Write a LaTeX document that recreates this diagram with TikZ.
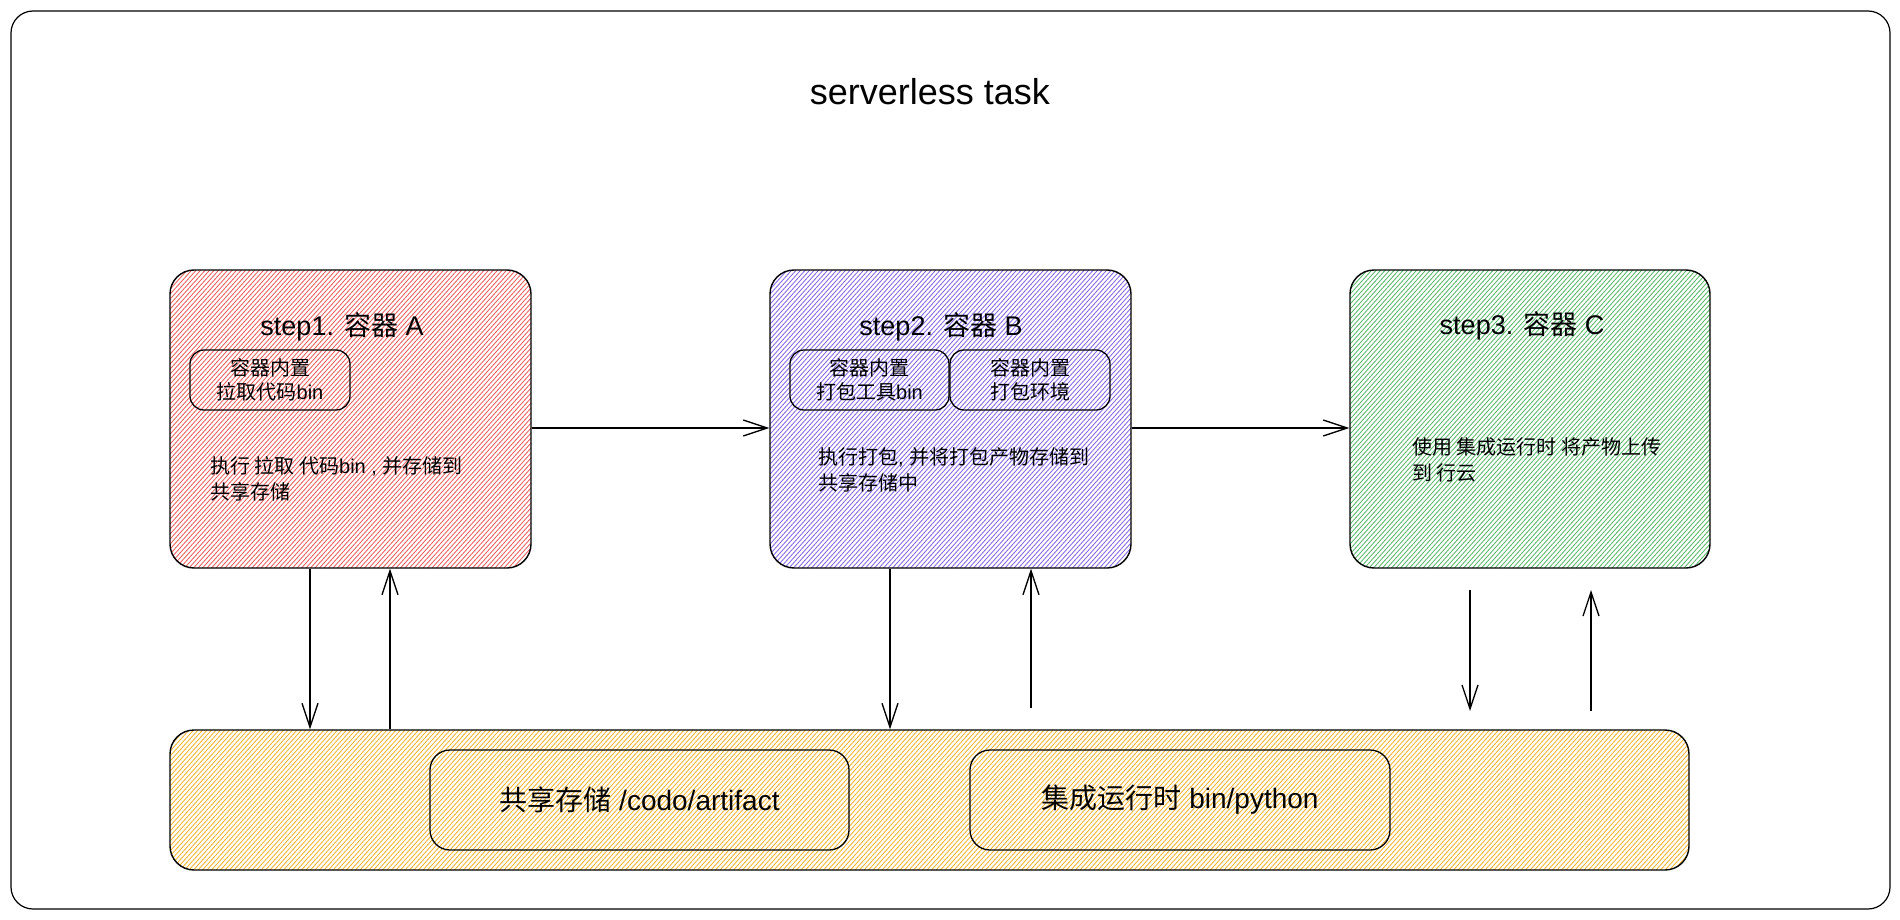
\documentclass[tikz,border=0pt]{standalone}
\usepackage{fontspec}
\setmainfont{Liberation Sans}
\newfontfamily\cjk{Noto Sans CJK SC}
\usetikzlibrary{arrows.meta,calc}
\newcommand\zh[1]{{\cjk #1}}
\definecolor{hred}{HTML}{E83A3A}
\definecolor{hviolet}{HTML}{6A45E0}
\definecolor{hgreen}{HTML}{34A84A}
\definecolor{hyellow}{HTML}{F2A300}
\begin{document}
\begin{tikzpicture}[x=1pt,y=-1pt,
  frame/.style={draw=black, line width=1.2pt, rounded corners=22pt, inner sep=0pt},
  box/.style={draw=black, line width=1.4pt, rounded corners=24pt, inner sep=0pt},
  inbox/.style={draw=black, line width=1.3pt, rounded corners=14pt, inner sep=0pt, align=center},
  hatch/.style={path picture={\foreach \k in {0,...,420}{\draw[#1, line width=0.8pt, opacity=0.85] ([xshift=\k*4.5pt-260pt]path picture bounding box.south west) -- ++(48:420pt);}}},
  ttl/.style={font=\fontsize{36}{40}\selectfont},
  btitle/.style={font=\fontsize{27}{30}\selectfont},
  small/.style={font=\fontsize{20}{24}\selectfont},
  desc/.style={font=\fontsize{20}{26}\selectfont, align=left, anchor=west, inner sep=0pt},
  big/.style={font=\fontsize{28}{32}\selectfont},
  arr/.style={line width=1.3pt, -{Straight Barb[length=24pt,width=16pt,line width=1.3pt]}}
]
\useasboundingbox (0,0) rectangle (1900,920);
\node[frame, minimum width=1879pt, minimum height=898pt] (frame) at (950.5,460) {};
\node[ttl] (title) at (930,92) {serverless task};

% main boxes
\node[box, hatch=hred, minimum width=361pt, minimum height=298pt] (A) at (350.5,419) {};
\node[box, hatch=hviolet, minimum width=361pt, minimum height=298pt] (B) at (950.5,419) {};
\node[box, hatch=hgreen, minimum width=360pt, minimum height=298pt] (C) at (1530,419) {};
\node[box, hatch=hyellow, minimum width=1519pt, minimum height=140pt] (bar) at (929.5,800) {};

% titles
\node[btitle] (At) at (342,327) {step1. \zh{容器} A};
\node[btitle] (Bt) at (941,327) {step2. \zh{容器} B};
\node[btitle] (Ct) at (1522,326) {step3. \zh{容器} C};

% inner boxes
\node[inbox, small, minimum width=160pt, minimum height=60pt] (Ain) at (270,380) {\zh{容器内置}\\\zh{拉取代码}bin};
\node[inbox, small, minimum width=159pt, minimum height=60pt] (Bin1) at (869.5,380) {\zh{容器内置}\\\zh{打包工具}bin};
\node[inbox, small, minimum width=160pt, minimum height=60pt] (Bin2) at (1030,380) {\zh{容器内置}\\\zh{打包环境}};

% descriptions
\node[desc] (Ad) at (210,478.5) {\zh{执行 拉取 代码}bin , \zh{并存储到}\\\zh{共享存储}};
\node[desc] (Bd) at (818,469.5) {\zh{执行打包}, \zh{并将打包产物存储到}\\\zh{共享存储中}};
\node[desc] (Cd) at (1412,460) {\zh{使用 集成运行时 将产物上传}\\\zh{到 行云}};

% bar inner boxes
\node[inbox, big, rounded corners=20pt, minimum width=419pt, minimum height=100pt] (store) at (639.5,800) {\zh{共享存储} /codo/artifact};
\node[inbox, big, rounded corners=20pt, minimum width=420pt, minimum height=100pt] (runtime) at (1180,800) {\zh{集成运行时} bin/python};

% horizontal arrows
\draw[arr] ($(A.east)+(0,9)$) -- ($(B.west)+(0,9)$);
\draw[arr] ($(B.east)+(0,9)$) -- ($(C.west)+(0,9)$);

% vertical arrows
\coordinate (xa1) at (310,0);
\coordinate (xa2) at (390,0);
\coordinate (xb1) at (890,0);
\coordinate (b2) at (1031,708);
\coordinate (c1a) at (1470,590);
\coordinate (c1b) at (1470,711);
\coordinate (c2a) at (1591,711);
\coordinate (c2b) at (1591,590);
\draw[arr] (A.south -| xa1) -- (bar.north -| xa1);
\draw[arr] (bar.north -| xa2) -- (A.south -| xa2);
\draw[arr] (B.south -| xb1) -- (bar.north -| xb1);
\draw[arr] (b2) -- (B.south -| b2);
\draw[arr] (c1a) -- (c1b);
\draw[arr] (c2a) -- (c2b);
\end{tikzpicture}
\end{document}
